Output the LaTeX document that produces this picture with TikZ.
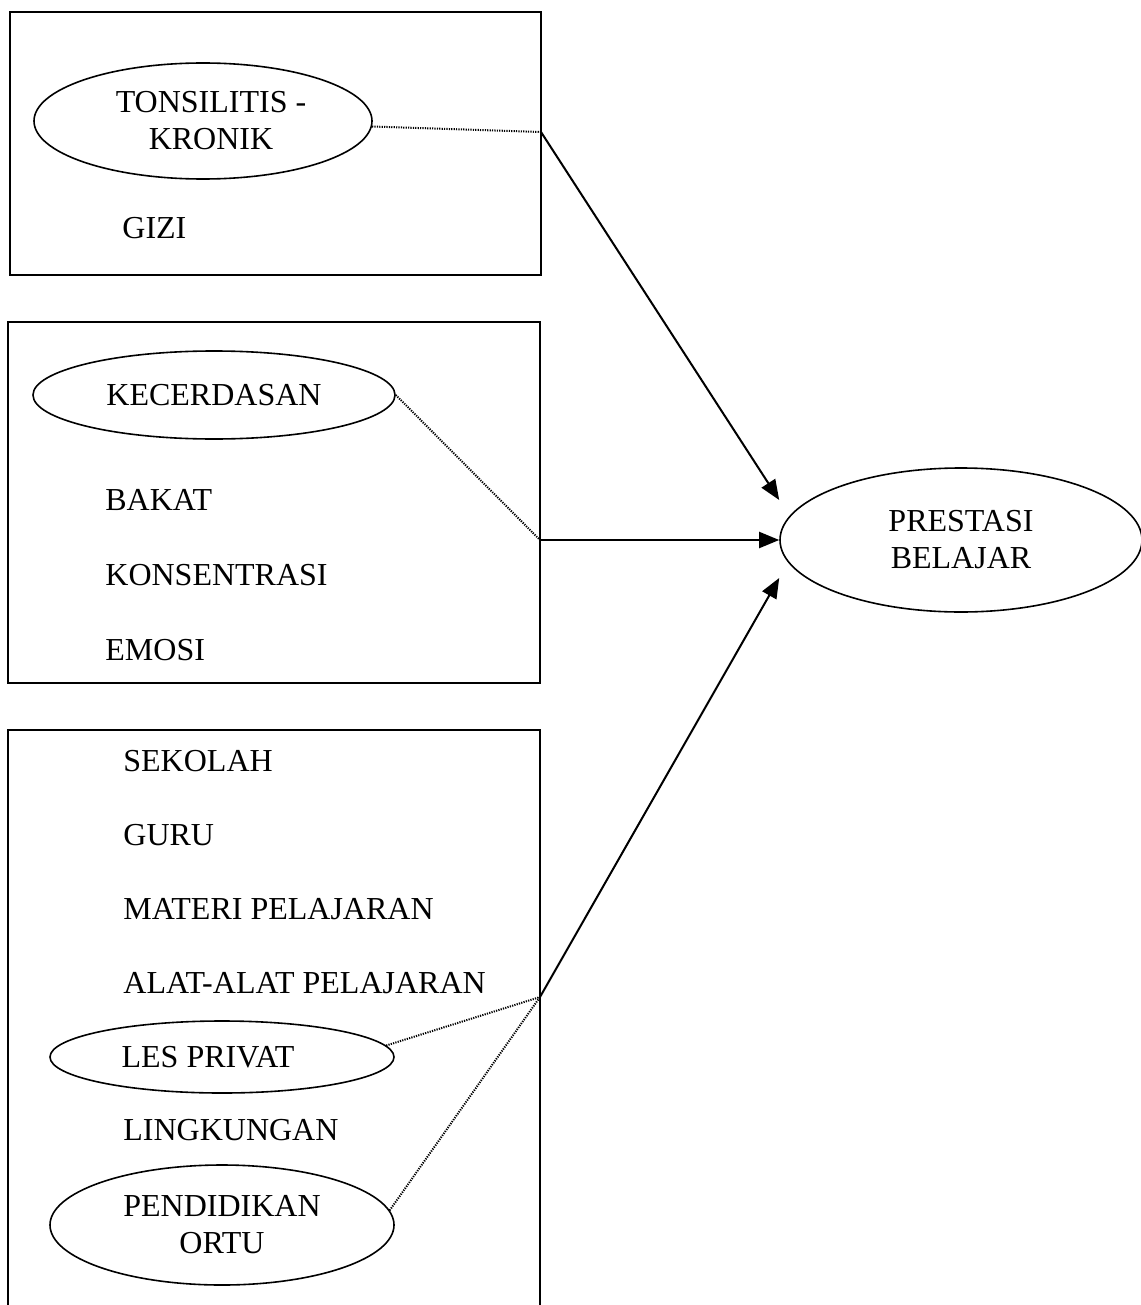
\documentclass[tikz,border=0pt]{standalone}
\usepackage{fontspec}
\setmainfont{Liberation Serif}
\usetikzlibrary{shapes.geometric,arrows.meta,calc}
\begin{document}
\begin{tikzpicture}[x=0.5pt,y=-0.5pt,
  every node/.style={font=\fontsize{16}{18.5}\selectfont},
  frame/.style={line width=1pt},
  oval/.style={draw,ellipse,line width=0.8pt,inner sep=0pt,align=center},
  item/.style={anchor=west,inner sep=0pt},
  dotline/.style={line width=1pt,dash pattern=on 0.6pt off 0.6pt},
  arr/.style={line width=1pt,-{Triangle[length=10pt,width=8pt]}}]
\useasboundingbox (0,0) rectangle (1140,1305);
% boxes
\draw[frame] (10,12) rectangle (541,275);
\draw[frame] (8,322) rectangle (540,683);
\draw[frame] (8,1320) -- (8,730) -- (540,730) -- (540,1320);
% box 1
\node[oval,minimum width=169pt,minimum height=58pt] (e1) at (203,121) {\hspace*{8pt}TONSILITIS -\\\hspace*{8pt}KRONIK};
\node[item] (gizi) at (122,228) {GIZI};
% box 2
\node[oval,minimum width=181pt,minimum height=44pt] (e2) at (214,395) {KECERDASAN};
\node[item] (bakat) at (105,500) {BAKAT};
\node[item] (kons) at (105,575) {KONSENTRASI};
\node[item] (emosi) at (105,650) {EMOSI};
% box 3
\node[item] (sek) at (123,761) {SEKOLAH};
\node[item] (guru) at (123,835) {GURU};
\node[item] (mat) at (123,909) {MATERI PELAJARAN};
\node[item] (alat) at (123,983) {ALAT-ALAT PELAJARAN};
\node[oval,minimum width=172pt,minimum height=36pt] (e3) at (222,1057) {LES PRIVAT\hspace*{14pt}};
\node[item] (ling) at (123,1130) {LINGKUNGAN};
\node[oval,minimum width=172pt,minimum height=60pt] (e4) at (222,1225) {PENDIDIKAN\\ORTU};
% target
\node[oval,minimum width=181pt,minimum height=72pt] (pb) at (961,540) {PRESTASI\\BELAJAR};
% junctions
\coordinate (j1) at (541,132);
\coordinate (j2) at (540,540);
\coordinate (j3) at (540,997);
\coordinate (t1) at ($(pb.west)+(0,-40)$);
\coordinate (t3) at ($(pb.west)+(0,38)$);
% connectors
\draw[dotline] (e1) -- (j1);
\draw[dotline] (e2.east) -- (j2);
\draw[dotline] (e3.4) -- (j3);
\draw[dotline] (e4.5) -- (j3);
\draw[arr] (j1) -- (t1);
\draw[arr] (j2) -- (pb.west);
\draw[arr] (j3) -- (t3);
\end{tikzpicture}
\end{document}
